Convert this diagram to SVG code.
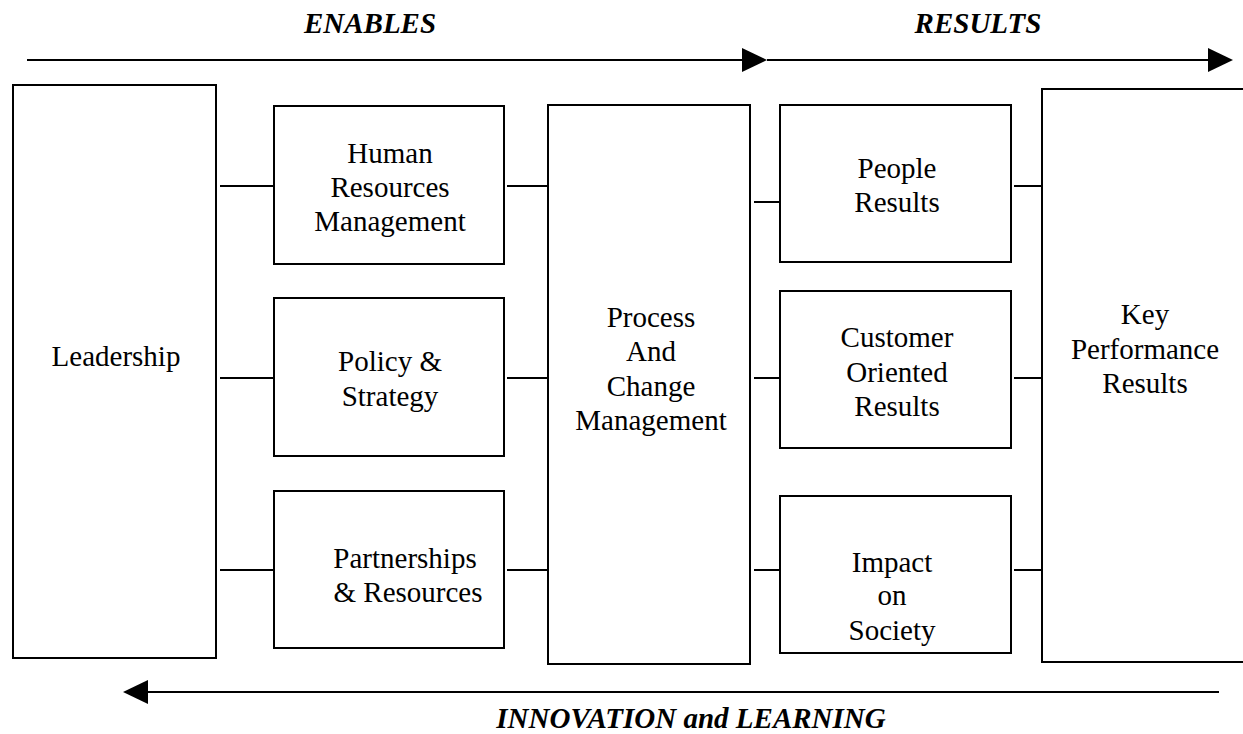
<svg xmlns="http://www.w3.org/2000/svg" width="1243" height="734" viewBox="0 0 1243 734">
<defs>
<style>
.box{fill:#fff;stroke:#000;stroke-width:2}
.ln{stroke:#000;stroke-width:2;fill:none}
.ah{fill:#000;stroke:none}
.t{font-family:"Liberation Serif","Times New Roman",serif;font-size:29px;fill:#000;text-anchor:middle}
.h{font-family:"Liberation Serif","Times New Roman",serif;font-size:29px;font-weight:bold;font-style:italic;fill:#000;text-anchor:middle}
</style>
</defs>
<rect width="1243" height="734" fill="#fff"/>
<g id="flow-arrows">
<line class="ln" x1="27" y1="60" x2="743" y2="60"/>
<polygon class="ah" points="742,48 767,60 742,72"/>
<line class="ln" x1="767" y1="60" x2="1209" y2="60"/>
<polygon class="ah" points="1208,48 1233,60 1208,72"/>
<line class="ln" x1="1219" y1="692" x2="147" y2="692"/>
<polygon class="ah" points="148,680 123,692 148,704"/>
<text class="h" x="370" y="33">ENABLES</text>
<text class="h" x="978" y="33">RESULTS</text>
<text class="h" x="691" y="728">INNOVATION and LEARNING</text>
</g>
<g id="connectors">
<line class="ln" x1="220" y1="186" x2="274" y2="186"/>
<line class="ln" x1="220" y1="378" x2="274" y2="378"/>
<line class="ln" x1="220" y1="570" x2="274" y2="570"/>
<line class="ln" x1="507" y1="186" x2="548" y2="186"/>
<line class="ln" x1="507" y1="378" x2="548" y2="378"/>
<line class="ln" x1="507" y1="570" x2="548" y2="570"/>
<line class="ln" x1="754" y1="202" x2="780" y2="202"/>
<line class="ln" x1="754" y1="378" x2="780" y2="378"/>
<line class="ln" x1="754" y1="570" x2="780" y2="570"/>
<line class="ln" x1="1014" y1="186" x2="1042" y2="186"/>
<line class="ln" x1="1014" y1="378" x2="1042" y2="378"/>
<line class="ln" x1="1014" y1="570" x2="1042" y2="570"/>
</g>
<g id="leadership">
<rect class="box" x="13" y="85" width="203" height="573"/>
<text class="t" x="116" y="366">Leadership</text>
</g>
<g id="hr">
<rect class="box" x="274" y="106" width="230" height="158"/>
<text class="t" x="390" y="163">Human</text>
<text class="t" x="390" y="197">Resources</text>
<text class="t" x="390" y="231">Management</text>
</g>
<g id="policy">
<rect class="box" x="274" y="298" width="230" height="158"/>
<text class="t" x="390" y="371">Policy &amp;</text>
<text class="t" x="390" y="406">Strategy</text>
</g>
<g id="partnerships">
<rect class="box" x="274" y="491" width="230" height="157"/>
<text class="t" x="405" y="568">Partnerships</text>
<text class="t" x="408" y="602">&amp; Resources</text>
</g>
<g id="process">
<rect class="box" x="548" y="105" width="202" height="559"/>
<text class="t" x="651" y="327">Process</text>
<text class="t" x="651" y="361">And</text>
<text class="t" x="651" y="396">Change</text>
<text class="t" x="651" y="430">Management</text>
</g>
<g id="people">
<rect class="box" x="780" y="105" width="231" height="157"/>
<text class="t" x="897" y="178">People</text>
<text class="t" x="897" y="212">Results</text>
</g>
<g id="customer">
<rect class="box" x="780" y="291" width="231" height="157"/>
<text class="t" x="897" y="347">Customer</text>
<text class="t" x="897" y="382">Oriented</text>
<text class="t" x="897" y="416">Results</text>
</g>
<g id="impact">
<rect class="box" x="780" y="496" width="231" height="157"/>
<text class="t" x="892" y="572">Impact</text>
<text class="t" x="892" y="605">on</text>
<text class="t" x="892" y="640">Society</text>
</g>
<g id="kpr">
<rect class="box" x="1042" y="89" width="220" height="573"/>
<text class="t" x="1145" y="324">Key</text>
<text class="t" x="1145" y="359">Performance</text>
<text class="t" x="1145" y="393">Results</text>
</g>
</svg>
